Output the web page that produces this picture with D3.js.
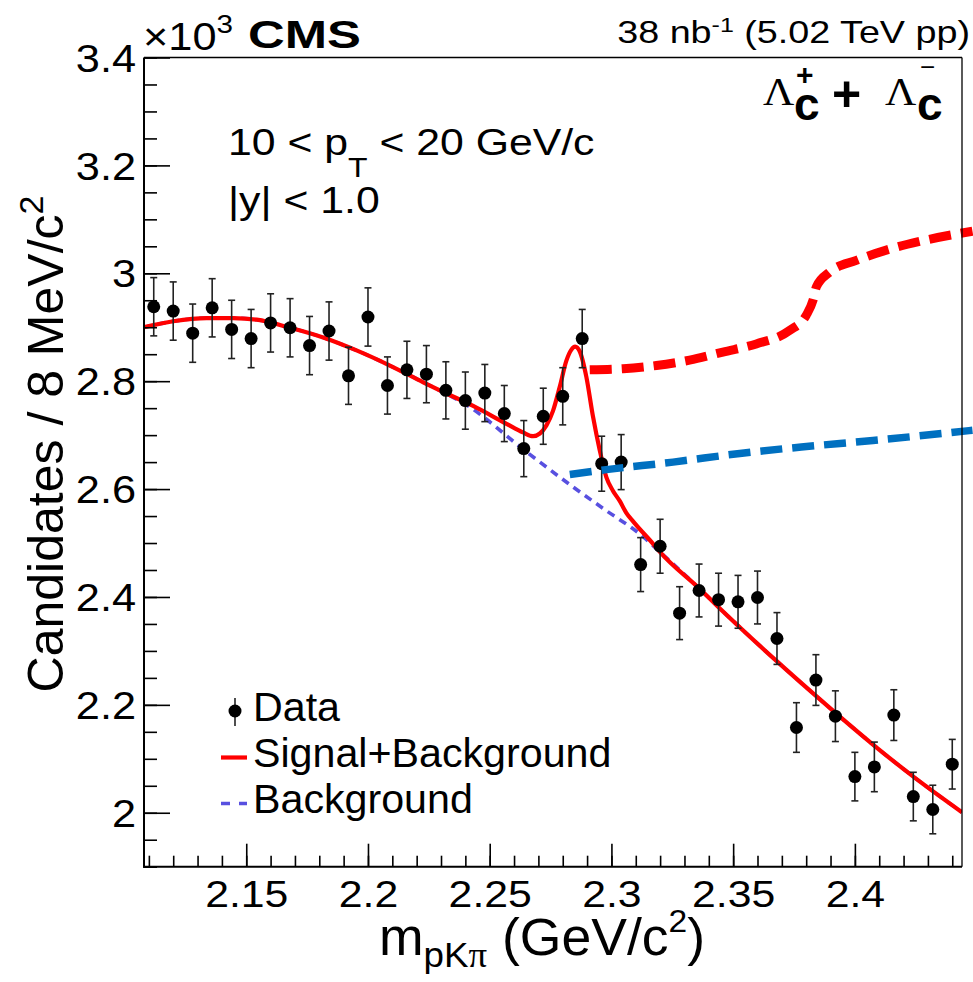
<!DOCTYPE html>
<html>
<head>
<meta charset="utf-8">
<script src="https://cdn.jsdelivr.net/npm/d3@7"></script>
<style>
  html, body { margin: 0; padding: 0; background: #fff; }
  svg { display: block; }
</style>
</head>
<body>
<svg id="chart" width="973" height="982"></svg>
<script>
// ---------------- DATA ----------------
const binMass = [2.112, 2.120, 2.128, 2.136, 2.144, 2.152, 2.160, 2.168, 2.176, 2.184,
                 2.192, 2.200, 2.208, 2.216, 2.224, 2.232, 2.240, 2.248, 2.256, 2.264,
                 2.272, 2.280, 2.288, 2.296, 2.304, 2.312, 2.320, 2.328, 2.336, 2.344,
                 2.352, 2.360, 2.368, 2.376, 2.384, 2.392, 2.400, 2.408, 2.416, 2.424,
                 2.432, 2.440];
const counts = [2.938, 2.930, 2.889, 2.936, 2.896, 2.879, 2.908, 2.899, 2.866, 2.893,
                2.810, 2.919, 2.792, 2.821, 2.813, 2.783, 2.764, 2.778, 2.740, 2.675,
                2.735, 2.772, 2.879, 2.647, 2.650, 2.460, 2.494, 2.370, 2.412, 2.395,
                2.391, 2.399, 2.323, 2.158, 2.246, 2.179, 2.067, 2.085, 2.181, 2.030,
                2.006, 2.090];
const countErrs = [0.054, 0.054, 0.054, 0.054, 0.054, 0.054, 0.054, 0.054, 0.054, 0.054,
                   0.053, 0.054, 0.053, 0.053, 0.053, 0.053, 0.053, 0.053, 0.052, 0.052,
                   0.052, 0.053, 0.054, 0.051, 0.051, 0.050, 0.050, 0.049, 0.049, 0.049,
                   0.049, 0.049, 0.048, 0.046, 0.047, 0.047, 0.045, 0.046, 0.047, 0.045,
                   0.045, 0.046];

// Signal + Background fit curve
const sbMass = [2.108, 2.120, 2.1337, 2.1447, 2.1543, 2.168, 2.1816, 2.1953, 2.209, 2.2227,
                2.2295, 2.2432, 2.2569, 2.2637, 2.2678, 2.2706, 2.2733, 2.276, 2.2788, 2.2815,
                2.2835, 2.2851, 2.2870, 2.2897, 2.2924, 2.2952, 2.2979, 2.3006, 2.3034, 2.3061,
                2.3089, 2.3171, 2.3198, 2.336, 2.344, 2.3679, 2.3839, 2.3918, 2.4078, 2.424,
                2.444];
const sbVals = [2.900, 2.911, 2.917, 2.917, 2.914, 2.899, 2.881, 2.857, 2.829, 2.798,
                2.783, 2.754, 2.721, 2.705, 2.698, 2.703, 2.718, 2.745, 2.790, 2.838,
                2.858, 2.864, 2.855, 2.808, 2.735, 2.672, 2.622, 2.597, 2.578, 2.556,
                2.540, 2.4985, 2.484, 2.416, 2.381, 2.281, 2.217, 2.186, 2.125, 2.067,
                2.001];

// Background fit curve
const bkgMass = [2.108, 2.120, 2.1337, 2.1447, 2.1543, 2.168, 2.1816, 2.1953, 2.209, 2.2227,
                 2.2418, 2.2637, 2.2842, 2.2979, 2.3116, 2.3198, 2.336, 2.344, 2.3679, 2.3839,
                 2.3918, 2.4078, 2.424, 2.444];
const bkgVals = [2.900, 2.911, 2.917, 2.917, 2.914, 2.899, 2.881, 2.857, 2.829, 2.798,
                 2.752, 2.674, 2.604, 2.560, 2.517, 2.484, 2.416, 2.381, 2.281, 2.217,
                 2.186, 2.125, 2.067, 2.001];

// thick dashed overlay lines
const redDashMass = [2.2911, 2.3048, 2.3185, 2.3321, 2.3458, 2.3595, 2.3732, 2.3800, 2.3828, 2.3842,
                     2.3896, 2.4006, 2.4129, 2.4266, 2.4483];
const redDashVals = [2.821, 2.823, 2.829, 2.839, 2.854, 2.869, 2.894, 2.922, 2.950, 2.975,
                     3.002, 3.024, 3.043, 3.059, 3.078];
const blueDashMass = [2.2829, 2.2979, 2.3253, 2.3527, 2.3780, 2.4074, 2.4483];
const blueDashVals = [2.627, 2.636, 2.650, 2.666, 2.678, 2.690, 2.709];

const xTickVals = [2.15, 2.2, 2.25, 2.3, 2.35, 2.4];
const yTickVals = [2.0, 2.2, 2.4, 2.6, 2.8, 3.0, 3.2, 3.4];
const legendLabels = ["Data", "Signal+Background", "Background"];

// ---------------- LAYOUT ----------------
const SANS = "'Liberation Sans', Arial, Helvetica, sans-serif";
const SERIF = "'Liberation Serif', 'Times New Roman', serif";
const svg = d3.select("#chart");
svg.append("rect").attr("width", 973).attr("height", 982).attr("fill", "#fff");

const L = 144, R = 962, T = 57.5, B = 866.7;
const x = d3.scaleLinear().domain([2.108, 2.444]).range([L, R]);
const y = d3.scaleLinear().domain([1.9, 3.4]).range([B, T]);

svg.append("clipPath").attr("id", "frame")
  .append("rect").attr("x", L).attr("y", T).attr("width", R - L).attr("height", B - T);

// ---------------- CURVES ----------------
const line = d3.line().x(d => x(d[0])).y(d => y(d[1])).curve(d3.curveMonotoneX);
const plot = svg.append("g").attr("clip-path", "url(#frame)");

plot.append("path")
  .attr("d", line(bkgMass.map((m, i) => [m, bkgVals[i]])))
  .attr("fill", "none").attr("stroke", "#5850e0").attr("stroke-width", 3.6)
  .attr("stroke-dasharray", "8,6");

plot.append("path")
  .attr("d", line(sbMass.map((m, i) => [m, sbVals[i]])))
  .attr("fill", "none").attr("stroke", "#ff0000").attr("stroke-width", 4.2);

// ---------------- DATA POINTS ----------------
const pts = svg.append("g");
binMass.forEach((m, i) => {
  const cx = x(m), v = counts[i], e = countErrs[i];
  const g = pts.append("g");
  g.append("line").attr("x1", cx).attr("x2", cx).attr("y1", y(v + e)).attr("y2", y(v - e))
    .attr("stroke", "#222").attr("stroke-width", 1.6);
  [v + e, v - e].forEach(w => g.append("line")
    .attr("x1", cx - 3.5).attr("x2", cx + 3.5).attr("y1", y(w)).attr("y2", y(w))
    .attr("stroke", "#222").attr("stroke-width", 1.6));
  g.append("circle").attr("cx", cx).attr("cy", y(v)).attr("r", 6.5).attr("fill", "#000");
});

// ---------------- THICK DASHED OVERLAYS ----------------
svg.append("path")
  .attr("d", line(redDashMass.map((m, i) => [m, redDashVals[i]])))
  .attr("fill", "none").attr("stroke", "#ff0000").attr("stroke-width", 9)
  .attr("stroke-dasharray", "22,10");
svg.append("path")
  .attr("d", line(blueDashMass.map((m, i) => [m, blueDashVals[i]])))
  .attr("fill", "none").attr("stroke", "#0070c0").attr("stroke-width", 7.5)
  .attr("stroke-dasharray", "22,10");

// ---------------- FRAME & AXES ----------------
svg.append("line").attr("x1", L).attr("x2", R).attr("y1", T).attr("y2", T).attr("stroke", "#000").attr("stroke-width", 1.3);
svg.append("line").attr("x1", R).attr("x2", R).attr("y1", T).attr("y2", B).attr("stroke", "#000").attr("stroke-width", 1.3);

const SX = 1.14;
// x axis
const xMinor = d3.range(2.11, 2.4441, 0.01).map(v => +v.toFixed(3));
const xAxisMinor = d3.axisBottom(x).tickValues(xMinor).tickSize(-11).tickFormat("");
const xAxisMajor = d3.axisBottom(x).tickValues(xTickVals).tickSize(-23).tickPadding(13)
  .tickFormat(d => String(+d.toFixed(2)));
const gxm = svg.append("g").attr("transform", `translate(0,${B})`).call(xAxisMinor);
const gx = svg.append("g").attr("transform", `translate(0,${B})`).call(xAxisMajor);
[gxm, gx].forEach(g => {
  g.select(".domain").remove();
  g.selectAll("line").attr("stroke", "#000").attr("stroke-width", 1.6);
});
gx.selectAll("text").attr("font-family", SANS).attr("font-size", 37.5).attr("fill", "#000")
  .attr("y", 40).attr("dy", null).attr("transform", `scale(${SX},1)`);
svg.append("line").attr("x1", L - 1).attr("x2", R).attr("y1", B).attr("y2", B).attr("stroke", "#000").attr("stroke-width", 2);

// y axis
const yMinor = d3.range(1.9, 3.4001, 0.05).map(v => +v.toFixed(2));
const yAxisMinor = d3.axisLeft(y).tickValues(yMinor).tickSize(-13).tickFormat("");
const yAxisMajor = d3.axisLeft(y).tickValues(yTickVals).tickSize(-26).tickPadding(7)
  .tickFormat(d => String(+d.toFixed(1)));
const gym = svg.append("g").attr("transform", `translate(${L},0)`).call(yAxisMinor);
const gy = svg.append("g").attr("transform", `translate(${L},0)`).call(yAxisMajor);
[gym, gy].forEach(g => {
  g.select(".domain").remove();
  g.selectAll("line").attr("stroke", "#000").attr("stroke-width", 1.6);
});
gy.selectAll("text").attr("font-family", SANS).attr("font-size", 38).attr("fill", "#000")
  .attr("dy", "0.36em").attr("transform", `scale(${SX},1)`);
svg.append("line").attr("x1", L).attr("x2", L).attr("y1", T).attr("y2", B + 1).attr("stroke", "#000").attr("stroke-width", 2);

// ---------------- TEXT HELPER ----------------
function label(px, py, opt, parts) {
  const o = Object.assign({ size: 38, sx: 1, anchor: "start", weight: "normal", family: SANS, rotate: 0 }, opt);
  const t = svg.append("text")
    .attr("transform", `translate(${px},${py}) rotate(${o.rotate}) scale(${o.sx},1)`)
    .attr("text-anchor", o.anchor).attr("font-family", o.family)
    .attr("font-size", o.size).attr("font-weight", o.weight).attr("fill", "#000");
  let cur = 0;
  parts.forEach(p => {
    const [s, shift, size, family, weight] = p;
    const ts = t.append("tspan").text(s).attr("dy", (shift || 0) - cur);
    cur = shift || 0;
    if (size) ts.attr("font-size", size);
    if (family) ts.attr("font-family", family);
    if (weight) ts.attr("font-weight", weight);
  });
  return t;
}

// exponent, CMS, lumi
label(143, 50, { size: 38, sx: SX }, [["×10", 0], ["3", -17, 26]]);
label(248, 48, { size: 38.5, sx: 1.32, weight: "bold" }, [["CMS", 0]]);
label(970, 42.7, { size: 31.7, sx: 1.19, anchor: "end" }, [["38 nb", 0], ["-1", -11, 21], [" (5.02 TeV pp)", 0]]);

// Lambda_c labels
label(763, 105, { size: 40, sx: 1.08, family: SERIF }, [["Λ", 0]]);
label(794, 120, { size: 46, weight: "bold" }, [["c", 0]]);
label(796, 85, { size: 30, weight: "bold" }, [["+", 0]]);
label(832, 111, { size: 50, weight: "bold" }, [["+", 0]]);
label(885, 105, { size: 40, sx: 1.08, family: SERIF }, [["Λ", 0]]);
label(917, 120, { size: 46, weight: "bold" }, [["c", 0]]);
label(920, 76, { size: 26 }, [["−", 0]]);

// kinematic cuts
label(228, 155, { size: 37.5, sx: SX }, [["10 < p", 0], ["T", 22, 28], [" < 20 GeV/c", 0]]);
label(228, 213, { size: 37.5, sx: SX }, [["|y| < 1.0", 0]]);

// axis titles
label(379, 955, { size: 51, sx: 1.05 }, [["m", 0], ["pK", 12, 35], ["π", 12, 35, SERIF], [" (GeV/c", 0], ["2", -23, 32], [")", 0]]);
label(63, 444, { size: 50, rotate: -90, anchor: "middle" }, [["Candidates / 8 MeV/c", 0], ["2", -20, 34]]);

// ---------------- LEGEND ----------------
const lg = svg.append("g");
lg.append("line").attr("x1", 235).attr("x2", 235).attr("y1", 698).attr("y2", 726).attr("stroke", "#222").attr("stroke-width", 1.6);
lg.append("circle").attr("cx", 235).attr("cy", 711).attr("r", 6.5).attr("fill", "#000");
lg.append("line").attr("x1", 221).attr("x2", 247).attr("y1", 757.5).attr("y2", 757.5).attr("stroke", "#ff0000").attr("stroke-width", 4.2);
lg.append("line").attr("x1", 221).attr("x2", 247).attr("y1", 803.5).attr("y2", 803.5).attr("stroke", "#5850e0").attr("stroke-width", 3.6).attr("stroke-dasharray", "9,9");
const legY = [720.5, 767, 813];
legendLabels.forEach((s, i) => label(253, legY[i], { size: 40, sx: 1.03 }, [[s, 0]]));
</script>
</body>
</html>
